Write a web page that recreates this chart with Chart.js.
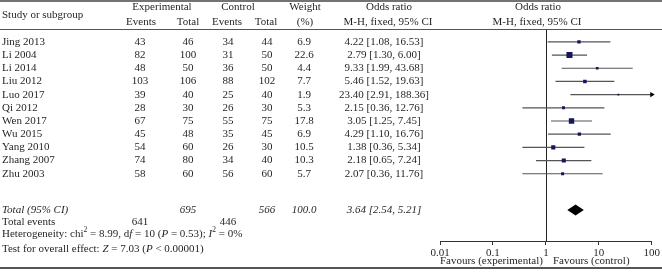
<!DOCTYPE html>
<html>
<head>
<meta charset="utf-8">
<script src="https://cdn.jsdelivr.net/npm/chart.js@4.4.1/dist/chart.umd.min.js"></script>
<style>
  html, body { margin: 0; padding: 0; background: #fff; }
  canvas { display: block; }
</style>
</head>
<body>
<canvas id="forest" width="662" height="277"></canvas>
<script>
// Study data
const studies = ['Jing 2013', 'Li 2004', 'Li 2014', 'Liu 2012', 'Luo 2017', 'Qi 2012',
                 'Wen 2017', 'Wu 2015', 'Yang 2010', 'Zhang 2007', 'Zhu 2003'];
const expEvents = [43, 82, 48, 103, 39, 28, 67, 45, 54, 74, 58];
const expTotal = [46, 100, 50, 106, 40, 30, 75, 48, 60, 80, 60];
const ctlEvents = [34, 31, 36, 88, 25, 26, 55, 35, 26, 34, 56];
const ctlTotal = [44, 50, 50, 102, 40, 30, 75, 45, 30, 40, 60];
const weights = [6.9, 22.6, 4.4, 7.7, 1.9, 5.3, 17.8, 6.9, 10.5, 10.3, 5.7];
const oddsRatio = [4.22, 2.79, 9.33, 5.46, 23.40, 2.15, 3.05, 4.29, 1.38, 2.18, 2.07];
const ciLow = [1.08, 1.30, 1.99, 1.52, 2.91, 0.36, 1.25, 1.10, 0.36, 0.65, 0.36];
const ciHigh = [16.53, 6.00, 43.68, 19.63, 188.36, 12.76, 7.45, 16.76, 5.34, 7.24, 11.76];

// Pooled result
const pooledOR = 3.64;
const pooledLow = 2.54;
const pooledHigh = 5.21;
const pooledExpTotal = 695;
const pooledCtlTotal = 566;
const pooledWeight = '100.0';
const totalExpEvents = 641;
const totalCtlEvents = 446;

const xTicks = [0.01, 0.1, 1, 10, 100];
const xTickLabels = ['0.01', '0.1', '1', '10', '100'];

// row slots on the y scale
const totalRow = 12.75;
const eventsRow = 13.67;
const hetRow = 14.58;
const testRow = 15.7;

const FONT = "'Liberation Serif', 'Times New Roman', serif";
const TXT = '#231f20';

function font(size, italic) {
    return (italic ? 'italic ' : '') + size + 'px ' + FONT;
}

function drawRuns(ctx, runs, x, y) {
    ctx.textAlign = 'left';
    runs.forEach(r => {
        const size = r.sup ? 7.5 : 11;
        ctx.font = font(size, r.it);
        ctx.fillText(r.t, x, r.sup ? y - 4 : y);
        x += ctx.measureText(r.t).width;
    });
}

const tablePlugin = {
    id: 'forestTable',
    beforeDatasetsDraw(chart) {
        const ctx = chart.ctx;
        const xs = chart.scales.x;
        const ys = chart.scales.y;
        // line of no effect
        ctx.save();
        ctx.strokeStyle = '#222';
        ctx.lineWidth = 1;
        const x1 = Math.round(xs.getPixelForValue(1)) + 0.5;
        ctx.beginPath();
        ctx.moveTo(x1, 29);
        ctx.lineTo(x1, ys.bottom);
        ctx.stroke();
        ctx.restore();
    },
    afterDraw(chart) {
        const ctx = chart.ctx;
        const xs = chart.scales.x;
        const ys = chart.scales.y;
        const W = chart.width;
        ctx.save();

        // rules
        ctx.strokeStyle = '#444';
        ctx.lineWidth = 1.5;
        ctx.beginPath(); ctx.moveTo(0, 1); ctx.lineTo(W, 1); ctx.stroke();
        ctx.lineWidth = 1;
        ctx.strokeStyle = '#555';
        ctx.beginPath(); ctx.moveTo(0, 29.5); ctx.lineTo(W, 29.5); ctx.stroke();
        ctx.lineWidth = 2;
        ctx.beginPath(); ctx.moveTo(0, 268); ctx.lineTo(W, 268); ctx.stroke();

        ctx.fillStyle = TXT;
        ctx.textBaseline = 'middle';
        ctx.font = font(11);

        // header
        ctx.textAlign = 'left';
        ctx.fillText('Study or subgroup', 2, 15);
        ctx.textAlign = 'center';
        ctx.fillText('Experimental', 162, 7.5);
        ctx.fillText('Control', 238, 7.5);
        ctx.fillText('Weight', 305, 7.5);
        ctx.fillText('Odds ratio', 389, 7.5);
        ctx.fillText('Odds ratio', 538, 7.5);
        ctx.fillText('Events', 141, 22);
        ctx.fillText('Total', 188, 22);
        ctx.fillText('Events', 227, 22);
        ctx.fillText('Total', 266, 22);
        ctx.fillText('(%)', 305, 22);
        ctx.fillText('M-H, fixed, 95% CI', 388, 22);
        ctx.fillText('M-H, fixed, 95% CI', 537, 22);

        // study rows
        studies.forEach((s, i) => {
            const y = ys.getPixelForValue(i);
            ctx.textAlign = 'left';
            ctx.fillText(s, 2, y);
            ctx.textAlign = 'center';
            ctx.fillText(String(expEvents[i]), 140, y);
            ctx.fillText(String(expTotal[i]), 188, y);
            ctx.fillText(String(ctlEvents[i]), 228, y);
            ctx.fillText(String(ctlTotal[i]), 267, y);
            ctx.fillText(weights[i].toFixed(1), 304, y);
            ctx.fillText(oddsRatio[i].toFixed(2) + ' [' + ciLow[i].toFixed(2) + ', ' + ciHigh[i].toFixed(2) + ']', 384, y);
        });

        // totals
        let y = ys.getPixelForValue(totalRow);
        ctx.font = font(11, true);
        ctx.textAlign = 'left';
        ctx.fillText('Total (95% CI)', 2, y);
        ctx.textAlign = 'center';
        ctx.fillText(String(pooledExpTotal), 188, y);
        ctx.fillText(String(pooledCtlTotal), 267, y);
        ctx.fillText(pooledWeight, 304, y);
        ctx.fillText(pooledOR.toFixed(2) + ' [' + pooledLow.toFixed(2) + ', ' + pooledHigh.toFixed(2) + ']', 384, y);

        y = ys.getPixelForValue(eventsRow);
        ctx.font = font(11);
        ctx.textAlign = 'left';
        ctx.fillText('Total events', 2, y);
        ctx.textAlign = 'center';
        ctx.fillText(String(totalExpEvents), 140, y);
        ctx.fillText(String(totalCtlEvents), 228, y);

        drawRuns(ctx, [
            { t: 'Heterogeneity: chi' }, { t: '2', sup: true }, { t: ' = 8.99, d' }, { t: 'f', it: true },
            { t: ' = 10 (' }, { t: 'P', it: true }, { t: ' = 0.53); ' }, { t: 'I', it: true },
            { t: '2', sup: true }, { t: ' = 0%' }
        ], 2, ys.getPixelForValue(hetRow));
        drawRuns(ctx, [
            { t: 'Test for overall effect: ' }, { t: 'Z', it: true }, { t: ' = 7.03 (' },
            { t: 'P', it: true }, { t: ' < 0.00001)' }
        ], 2, ys.getPixelForValue(testRow));

        // favours labels
        ctx.font = font(11);
        const xOne = xs.getPixelForValue(1);
        ctx.textAlign = 'right';
        ctx.fillText('Favours (experimental)', xOne - 3, 261);
        ctx.textAlign = 'left';
        ctx.fillText('Favours (control)', xOne + 7, 261);

        // pooled diamond
        const yd = ys.getPixelForValue(totalRow);
        ctx.fillStyle = '#000';
        ctx.beginPath();
        ctx.moveTo(xs.getPixelForValue(pooledLow), yd);
        ctx.lineTo(xs.getPixelForValue(pooledOR), yd - 5.5);
        ctx.lineTo(xs.getPixelForValue(pooledHigh), yd);
        ctx.lineTo(xs.getPixelForValue(pooledOR), yd + 5.5);
        ctx.closePath();
        ctx.fill();

        ctx.restore();
    }
};

// one line dataset per confidence interval
const ciSets = studies.map((s, i) => ({
    type: 'line',
    label: s + ' CI',
    data: [{ x: ciLow[i], y: i }, { x: ciHigh[i], y: i }],
    borderColor: '#555',
    borderWidth: 1.2,
    pointRadius: 0,
    order: 2
}));

// arrows for intervals running past the axis
const arrowPts = [];
studies.forEach((s, i) => {
    if (ciHigh[i] > xTicks[xTicks.length - 1]) arrowPts.push({ x: xTicks[xTicks.length - 1], y: i });
});

new Chart(document.getElementById('forest').getContext('2d'), {
    type: 'scatter',
    data: {
        datasets: [
            ...ciSets,
            {
                label: 'Odds ratio',
                data: studies.map((s, i) => ({ x: oddsRatio[i], y: i })),
                pointStyle: 'rect',
                pointRadius: weights.map(w => Math.sqrt(w) * 0.9),
                backgroundColor: '#16165c',
                borderColor: '#16165c',
                borderWidth: 0,
                order: 1
            },
            {
                label: 'arrow',
                data: arrowPts,
                pointStyle: 'triangle',
                rotation: 90,
                pointRadius: 3,
                backgroundColor: '#000',
                borderColor: '#000',
                borderWidth: 0,
                clip: false,
                order: 0
            }
        ]
    },
    options: {
        responsive: false,
        animation: false,
        layout: { padding: { left: 440, right: 10, top: 30, bottom: 10 } },
        plugins: {
            legend: { display: false },
            tooltip: { enabled: false }
        },
        scales: {
            x: {
                type: 'logarithmic',
                min: 0.01,
                max: 100,
                afterBuildTicks: scale => { scale.ticks = xTicks.map(v => ({ value: v })); },
                afterFit: scale => { scale.height = 26; },
                ticks: {
                    autoSkip: false,
                    maxRotation: 0,
                    padding: 2,
                    color: TXT,
                    font: { family: FONT, size: 11 },
                    callback: (v, idx) => xTickLabels[idx]
                },
                grid: { drawOnChartArea: false, tickLength: 4, color: '#333' },
                border: { display: true, color: '#333', width: 1 }
            },
            y: {
                type: 'linear',
                display: false,
                reverse: true,
                min: -0.9,
                max: 15.1
            }
        }
    },
    plugins: [tablePlugin]
});
</script>
</body>
</html>
